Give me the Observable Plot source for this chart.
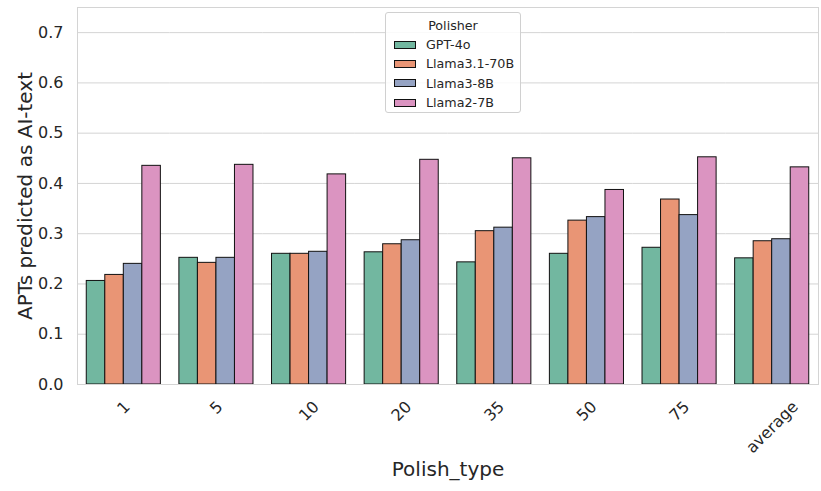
<!DOCTYPE html>
<html>
<head>
<meta charset="utf-8">
<script src="https://cdn.jsdelivr.net/npm/d3@7"></script>
<script src="https://cdn.jsdelivr.net/npm/@observablehq/plot@0.6"></script>
<style>
  html, body { margin: 0; padding: 0; background: #fff; }
  #wrap { position: relative; width: 821px; height: 491px; font-family: "DejaVu Sans", sans-serif; }
  #legend { position: absolute; left: 385px; top: 12px; width: 136px; height: 101px; box-sizing: border-box;
    border: 1px solid #d0d0d0; border-radius: 3px; background: rgba(255,255,255,0.85); color: #262626; font-size: 12.7px; }
  #legend .title { text-align: center; margin-top: 4px; height: 18px; line-height: 18px; }
  #legend .item { display: flex; align-items: center; height: 19.3px; }
  #legend .sw { width: 22px; height: 8px; border: 1px solid #111; margin-left: 8px; margin-right: 10px; box-sizing: border-box; }
</style>
</head>
<body>
<div id="wrap"></div>
<script>
const categories = ["1", "5", "10", "20", "35", "50", "75", "average"];
const polishers = ["GPT-4o", "Llama3.1-70B", "Llama3-8B", "Llama2-7B"];
const gpt4o      = [0.206, 0.252, 0.260, 0.263, 0.243, 0.260, 0.272, 0.251];
const llama31_70b = [0.218, 0.242, 0.260, 0.279, 0.305, 0.326, 0.368, 0.285];
const llama3_8b  = [0.240, 0.252, 0.264, 0.287, 0.312, 0.333, 0.337, 0.289];
const llama2_7b  = [0.435, 0.437, 0.418, 0.447, 0.450, 0.387, 0.452, 0.432];
const colors = ["#72b7a0", "#e99575", "#95a3c3", "#db94c1"];
const yTicks = [0, 0.1, 0.2, 0.3, 0.4, 0.5, 0.6, 0.7];
const xLabel = "Polish_type";
const yLabel = "APTs predicted as AI-text";
const legendTitle = "Polisher";

const series = [gpt4o, llama31_70b, llama3_8b, llama2_7b];
const rows = [];
categories.forEach((c, i) => polishers.forEach((p, j) => rows.push({category: c, polisher: p, value: series[j][i]})));

const textColor = "#262626";
const gridColor = "#d4d4d4";
const font = "DejaVu Sans";
const tickFont = 16;

const ctx = document.createElement("canvas").getContext("2d");
ctx.font = `${tickFont}px "${font}"`;
const tickMarks = categories.map(c => {
  const w = ctx.measureText(c).width;
  const h = tickFont * 1.164;
  return Plot.text([c], {fx: d => d, text: d => d, frameAnchor: "bottom", rotate: -45,
    textAnchor: "middle", lineAnchor: "middle", fontSize: tickFont, fill: textColor,
    dy: 13 + (w + h) * Math.SQRT1_2 / 2});
});

const chart = Plot.plot({
  width: 821, height: 491,
  marginLeft: 77, marginRight: 3, marginTop: 7, marginBottom: 107,
  style: {fontFamily: font, background: "white", color: textColor, overflow: "visible"},
  fx: {domain: categories, paddingInner: 0, paddingOuter: 0, round: false, axis: null, label: null},
  x: {domain: polishers, paddingInner: 0, paddingOuter: 0.5, round: false, axis: null, label: null},
  y: {domain: [0, 0.75], axis: null},
  color: {domain: polishers, range: colors},
  marks: [
    Plot.gridY(yTicks, {stroke: gridColor, strokeOpacity: 1, strokeWidth: 1}),
    Plot.barY(rows, {fx: "category", x: "polisher", y: "value", fill: "polisher", stroke: "#111", strokeWidth: 1}),
    Plot.frame({facet: "super", stroke: gridColor, strokeWidth: 1}),
    Plot.axisY(yTicks, {tickSize: 0, tickPadding: 14, fontSize: tickFont, tickFormat: d3.format(".1f"), label: null, fill: textColor}),
    ...tickMarks,
    Plot.text([yLabel], {facet: "super", frameAnchor: "left", textAnchor: "middle", dx: -52, rotate: -90, fontSize: 20, fill: textColor}),
    Plot.text([xLabel], {facet: "super", frameAnchor: "bottom", textAnchor: "middle", dy: 91, fontSize: 20, fill: textColor})
  ]
});

const wrap = document.getElementById("wrap");
wrap.appendChild(chart);

const legend = document.createElement("div");
legend.id = "legend";
const t = document.createElement("div");
t.className = "title";
t.textContent = legendTitle;
legend.appendChild(t);
polishers.forEach((p, i) => {
  const item = document.createElement("div");
  item.className = "item";
  const sw = document.createElement("div");
  sw.className = "sw";
  sw.style.background = colors[i];
  const lab = document.createElement("span");
  lab.textContent = p;
  item.appendChild(sw);
  item.appendChild(lab);
  legend.appendChild(item);
});
wrap.appendChild(legend);
</script>
</body>
</html>
